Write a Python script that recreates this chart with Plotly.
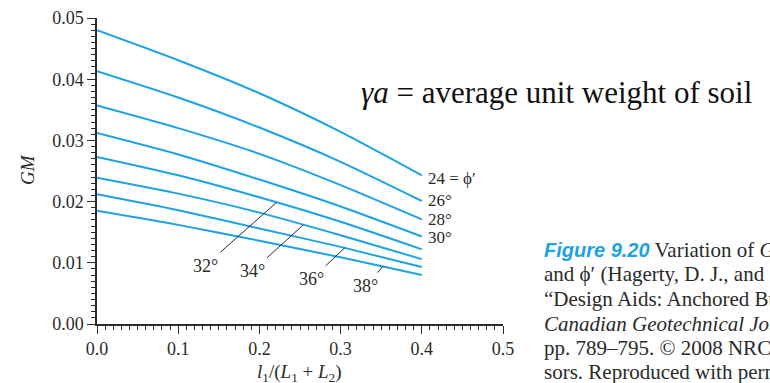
import numpy as np
import plotly.graph_objects as go

# Relative anchor position l1/(L1+L2)
ratio = [0.0, 0.1, 0.2, 0.3, 0.4]

# GM for each soil friction angle phi'
angles = [24, 26, 28, 30, 32, 34, 36, 38]
gm_24 = [0.0480, 0.0431, 0.0377, 0.0314, 0.0243]
gm_26 = [0.0413, 0.0370, 0.0321, 0.0265, 0.0201]
gm_28 = [0.0357, 0.0320, 0.0278, 0.0227, 0.0171]
gm_30 = [0.0312, 0.0277, 0.0236, 0.0192, 0.0143]
gm_32 = [0.0273, 0.0243, 0.0207, 0.0167, 0.0122]
gm_34 = [0.0239, 0.0213, 0.0182, 0.0145, 0.0106]
gm_36 = [0.0212, 0.0186, 0.0156, 0.0126, 0.0093]
gm_38 = [0.0185, 0.0162, 0.0136, 0.0109, 0.0080]
curves = [gm_24, gm_26, gm_28, gm_30, gm_32, gm_34, gm_36, gm_38]

# Curve labels at the right-hand ends
end_labels = {24: "24 = \u03d5\u2032", 26: "26\u00b0", 28: "28\u00b0", 30: "30\u00b0"}

# Leader-line labels: angle, x where the leader meets the curve, label position
leader_angles = [32, 34, 36, 38]
leader_hit_x = [0.221, 0.254, 0.305, 0.352]
leader_text_x = [0.133, 0.191, 0.264, 0.331]
leader_text_y = [0.0095, 0.0086, 0.0073, 0.0062]

x_ticks = [0.0, 0.1, 0.2, 0.3, 0.4, 0.5]
y_ticks = [0.00, 0.01, 0.02, 0.03, 0.04, 0.05]

note_text = "<i>\u03b3a</i> = average unit weight of soil"

caption = [
    "<b><i><span style='font-family:Liberation Sans, Arial, sans-serif;font-size:20px;color:#1ba3e3'>Figure 9.20</span></i></b> Variation of <i>GM</i> with",
    "and \u03d5\u2032 (Hagerty, D. J., and Nofal, M. M.",
    "\u201cDesign Aids: Anchored Bulkheads",
    "<i>Canadian Geotechnical Journal</i>,",
    "pp. 789\u2013795. \u00a9 2008 NRC Canada",
    "sors. Reproduced with permission.)",
]

CURVE = "#1ba3e3"
INK = "#2a2a2a"
SERIF = "Liberation Serif, Times New Roman, serif"

W, H = 770, 383
L, R, T, B = 97, 267, 18, 59
pw, ph = W - L - R, H - T - B


def to_paper(px, py):
    """Page pixel position -> paper coordinates of the plot area."""
    return (px - L) / pw, (H - B - py) / ph


fig = go.Figure()
for ang, gm in zip(angles, curves):
    fig.add_trace(go.Scatter(
        x=ratio, y=gm, mode="lines", name=f"{ang}\u00b0",
        line=dict(color=CURVE, width=2, shape="spline", smoothing=0.6),
        showlegend=False, hoverinfo="skip",
    ))

annotations = []
end_shift = {24: -3, 26: 0, 28: 0, 30: -1}
for ang, gm in zip(angles, curves):
    if ang in end_labels:
        annotations.append(dict(
            x=ratio[-1], y=gm[-1], xref="x", yref="y", text=end_labels[ang],
            showarrow=False, xanchor="left", yanchor="middle",
            xshift=4, yshift=end_shift[ang],
            font=dict(family=SERIF, size=17, color=INK),
        ))

for ang, hx, tx, ty in zip(leader_angles, leader_hit_x, leader_text_x, leader_text_y):
    gm = curves[angles.index(ang)]
    hy = float(np.interp(hx, ratio, gm))
    annotations.append(dict(
        x=hx, y=hy, xref="x", yref="y", ax=tx, ay=ty, axref="x", ayref="y",
        text=f"{ang}\u00b0", showarrow=True, arrowhead=0, arrowwidth=1,
        arrowcolor=INK, borderpad=3,
        font=dict(family=SERIF, size=18, color=INK),
    ))

nx, ny = to_paper(359, 92)
annotations.append(dict(
    x=nx, y=ny, xref="paper", yref="paper", text=note_text,
    showarrow=False, xanchor="left", yanchor="middle",
    font=dict(family=SERIF, size=31, color="#111111"),
))

cap_y = [250, 274, 299, 323.5, 348, 372]
for line, yy in zip(caption, cap_y):
    cx, cy = to_paper(542, yy)
    annotations.append(dict(
        x=cx, y=cy, xref="paper", yref="paper", text=line, showarrow=False,
        xanchor="left", yanchor="middle",
        font=dict(family=SERIF, size=21, color=INK),
    ))

gx, gy = to_paper(27, 170)
annotations.append(dict(
    x=gx, y=gy, xref="paper", yref="paper", text="<i>GM</i>", textangle=-90,
    showarrow=False, xanchor="center", yanchor="middle",
    font=dict(family=SERIF, size=19, color=INK),
))
tx_, ty_ = to_paper(299, 373)
annotations.append(dict(
    x=tx_, y=ty_, xref="paper", yref="paper",
    text="<i>l</i><sub>1</sub>/(<i>L</i><sub>1</sub> + <i>L</i><sub>2</sub>)",
    showarrow=False, xanchor="center", yanchor="middle",
    font=dict(family=SERIF, size=19, color=INK),
))

fig.update_layout(annotations=annotations)

axis_common = dict(
    showline=True, linecolor=INK, linewidth=1.5, mirror=False,
    ticks="outside", ticklen=8, tickwidth=1.2, tickcolor=INK,
    showgrid=False, zeroline=False,
    tickfont=dict(family=SERIF, size=18, color=INK),
)
fig.update_xaxes(
    range=[0, 0.5], tickvals=x_ticks, tickformat=".1f",
    minor=dict(dtick=0.01, ticks="outside", ticklen=4, tickwidth=1, tickcolor=INK, showgrid=False),
    **axis_common,
)
fig.update_yaxes(
    range=[0, 0.05], tickvals=y_ticks, tickformat=".2f",
    minor=dict(dtick=0.001, ticks="outside", ticklen=4, tickwidth=1, tickcolor=INK, showgrid=False),
    **axis_common,
)
fig.update_layout(
    width=W, height=H, margin=dict(l=L, r=R, t=T, b=B, autoexpand=False),
    plot_bgcolor="white", paper_bgcolor="white", showlegend=False,
)
fig.write_html("out.html")
